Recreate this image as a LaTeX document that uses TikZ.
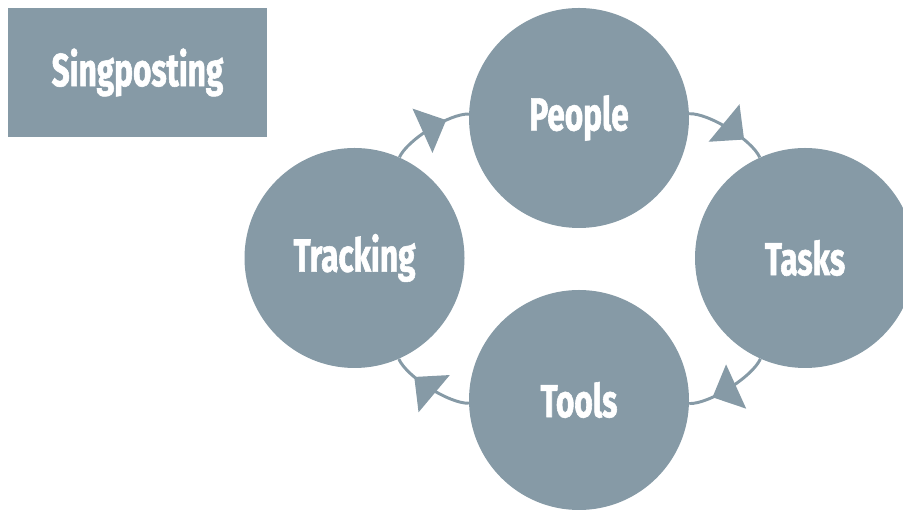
\documentclass[tikz,border=0pt]{standalone}
\usepackage{fontspec}
\newfontfamily\headfont{Fira Sans}[FakeStretch=0.68,FakeBold=1.2]
\usetikzlibrary{arrows.meta,decorations.markings}
\definecolor{slate}{RGB}{134,154,166}

\begin{document}
\begin{tikzpicture}
        [stage/.style={circle,fill=slate,minimum size=5.5cm,inner sep=0pt,text=white,
           font=\headfont\bfseries\fontsize{33}{38}\selectfont},
         flow/.style={color=slate,line width=2.1pt,postaction={decorate},
           decoration={markings,mark=at position 0.72 with {\arrow{Triangle[length=0.65cm,width=1.2cm]}}}}]
        \useasboundingbox (0,0) rectangle (22.575,12.8);

        \node[fill=slate,minimum width=6.475cm,minimum height=3.225cm,inner sep=0pt,text=white,
          font=\headfont\bfseries\fontsize{33}{38}\selectfont] (sign) at (3.4375,10.9875) {Singposting};

        \node[stage] (people) at (14.475,9.85) {People};
        \node[stage] (tasks) at (20.125,6.35) {Tasks};
        \node[stage] (tools) at (14.475,2.8) {Tools};
        \node[stage] (tracking) at (8.8625,6.35) {Tracking};

        \draw[flow] (people) to[bend left=34,looseness=0.6] (tasks);
        \draw[flow] (tasks) to[bend left=34,looseness=0.6] (tools);
        \draw[flow] (tools) to[bend left=34,looseness=0.6] (tracking);
        \draw[flow] (tracking) to[bend left=34,looseness=0.6] (people);
      \end{tikzpicture}
\end{document}
